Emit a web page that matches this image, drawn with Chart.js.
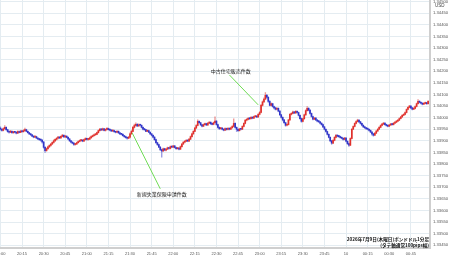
<!DOCTYPE html>
<html><head><meta charset="utf-8">
<script src="https://cdn.jsdelivr.net/npm/chart.js@4.4.1/dist/chart.umd.min.js"></script>
<style>html,body{margin:0;padding:0;background:#fff;overflow:hidden}canvas{display:block}</style>
</head><body>
<canvas id="c" width="450" height="258"></canvas>
<script>
// Time tick labels, one per 15 minutes starting 20:00
const timeLabels = ["20:00","20:15","20:30","20:45","21:00","21:15","21:30","21:45","22:00","22:15","22:30","22:45","23:00","23:15","23:30","23:45","10","00:15","00:30","00:45","01:00"];

// GBP/USD 1-minute candles (20:00 -> 00:57)
const opens = [
1.33955,1.33950,1.33945,1.33952,1.33958,1.33948,1.33940,1.33937,1.33941,1.33935,
1.33938,1.33937,1.33933,1.33940,1.33936,1.33942,1.33939,1.33944,1.33948,1.33941,
1.33935,1.33930,1.33926,1.33920,1.33916,1.33918,1.33912,1.33908,1.33905,1.33903,
1.33895,1.33872,1.33858,1.33866,1.33874,1.33880,1.33886,1.33893,1.33900,1.33906,
1.33911,1.33916,1.33912,1.33919,1.33924,1.33917,1.33920,1.33915,1.33908,1.33900,
1.33894,1.33890,1.33884,1.33886,1.33892,1.33897,1.33901,1.33903,1.33899,1.33905,
1.33910,1.33906,1.33907,1.33913,1.33918,1.33922,1.33926,1.33928,1.33935,1.33944,
1.33950,1.33947,1.33952,1.33945,1.33949,1.33953,1.33948,1.33946,1.33942,1.33944,
1.33939,1.33937,1.33941,1.33934,1.33930,1.33928,1.33922,1.33918,1.33914,1.33911,
1.33916,1.33930,1.33941,1.33958,1.33966,1.33971,1.33964,1.33969,1.33967,1.33958,
1.33950,1.33948,1.33941,1.33944,1.33937,1.33930,1.33924,1.33916,1.33905,1.33892,
1.33884,1.33873,1.33862,1.33856,1.33866,1.33860,1.33864,1.33870,1.33867,1.33875,
1.33873,1.33878,1.33871,1.33866,1.33869,1.33864,1.33875,1.33886,1.33894,1.33898,
1.33902,1.33899,1.33907,1.33918,1.33930,1.33941,1.33955,1.33966,1.33984,1.33978,
1.33969,1.33963,1.33970,1.33974,1.33968,1.33976,1.33980,1.33973,1.33971,1.33978,
1.33985,1.33970,1.33958,1.33952,1.33955,1.33950,1.33946,1.33953,1.33949,1.33954,
1.33950,1.33956,1.33962,1.33975,1.33958,1.33950,1.33944,1.33951,1.33950,1.33962,
1.33975,1.33989,1.33992,1.33997,1.33995,1.34001,1.33998,1.34004,1.34006,1.34003,
1.34014,1.34022,1.34053,1.34068,1.34080,1.34096,1.34088,1.34070,1.34053,1.34060,
1.34048,1.34042,1.34036,1.34040,1.34028,1.34012,1.34001,1.33990,1.33978,1.33967,
1.33970,1.33990,1.34014,1.34018,1.34024,1.34020,1.34027,1.34022,1.34010,1.33996,
1.33984,1.33995,1.34012,1.34030,1.34040,1.34032,1.34018,1.34005,1.33993,1.33998,
1.33990,1.33985,1.33982,1.33976,1.33970,1.33960,1.33950,1.33940,1.33928,1.33915,
1.33900,1.33890,1.33902,1.33915,1.33924,1.33920,1.33918,1.33914,1.33911,1.33906,
1.33912,1.33898,1.33888,1.33881,1.33910,1.33950,1.33962,1.33975,1.33983,1.33989,
1.33982,1.33975,1.33967,1.33960,1.33956,1.33952,1.33950,1.33945,1.33938,1.33930,
1.33924,1.33933,1.33942,1.33950,1.33958,1.33966,1.33972,1.33976,1.33970,1.33966,
1.33963,1.33968,1.33972,1.33970,1.33976,1.33980,1.33985,1.33989,1.33996,1.34003,
1.34010,1.34014,1.34022,1.34035,1.34044,1.34050,1.34042,1.34036,1.34040,1.34048,
1.34060,1.34070,1.34066,1.34062,1.34058,1.34061,1.34064,1.34060];
const highs = [
1.33960,1.33953,1.33956,1.33966,1.33960,1.33950,1.33943,1.33945,1.33943,1.33941,
1.33941,1.33939,1.33943,1.33942,1.33945,1.33944,1.33948,1.33955,1.33950,1.33943,
1.33937,1.33932,1.33928,1.33922,1.33921,1.33920,1.33914,1.33910,1.33907,1.33905,
1.33897,1.33875,1.33869,1.33877,1.33883,1.33889,1.33896,1.33904,1.33909,1.33914,
1.33919,1.33918,1.33922,1.33928,1.33926,1.33923,1.33922,1.33917,1.33910,1.33902,
1.33896,1.33892,1.33889,1.33895,1.33900,1.33904,1.33906,1.33905,1.33908,1.33913,
1.33912,1.33910,1.33916,1.33921,1.33925,1.33929,1.33931,1.33938,1.33947,1.33954,
1.33953,1.33955,1.33954,1.33952,1.33957,1.33955,1.33950,1.33948,1.33947,1.33946,
1.33941,1.33944,1.33943,1.33936,1.33932,1.33930,1.33924,1.33920,1.33916,1.33919,
1.33934,1.33946,1.33962,1.33972,1.33978,1.33974,1.33973,1.33972,1.33969,1.33960,
1.33953,1.33950,1.33947,1.33946,1.33939,1.33932,1.33926,1.33918,1.33907,1.33894,
1.33886,1.33875,1.33864,1.33869,1.33868,1.33867,1.33873,1.33872,1.33878,1.33877,
1.33881,1.33880,1.33873,1.33872,1.33871,1.33878,1.33889,1.33897,1.33901,1.33905,
1.33904,1.33910,1.33921,1.33933,1.33944,1.33958,1.33970,1.33990,1.33986,1.33980,
1.33971,1.33973,1.33977,1.33976,1.33979,1.33983,1.33982,1.33976,1.33981,1.34003,
1.33987,1.33972,1.33960,1.33958,1.33957,1.33952,1.33956,1.33955,1.33957,1.33956,
1.33959,1.33966,1.33995,1.33978,1.33960,1.33952,1.33954,1.33953,1.33965,1.33978,
1.33992,1.33995,1.34000,1.33999,1.34004,1.34003,1.34007,1.34009,1.34008,1.34017,
1.34026,1.34057,1.34072,1.34085,1.34108,1.34100,1.34090,1.34073,1.34064,1.34062,
1.34050,1.34045,1.34043,1.34042,1.34030,1.34014,1.34003,1.33992,1.33980,1.33973,
1.33993,1.34017,1.34021,1.34028,1.34027,1.34030,1.34029,1.34024,1.34012,1.33998,
1.33998,1.34015,1.34034,1.34048,1.34043,1.34034,1.34020,1.34007,1.34001,1.34000,
1.33992,1.33988,1.33984,1.33978,1.33972,1.33962,1.33952,1.33942,1.33930,1.33917,
1.33902,1.33905,1.33918,1.33928,1.33926,1.33923,1.33920,1.33916,1.33913,1.33915,
1.33914,1.33900,1.33890,1.33913,1.33953,1.33965,1.33978,1.33986,1.33993,1.33991,
1.33984,1.33977,1.33969,1.33962,1.33958,1.33955,1.33952,1.33947,1.33940,1.33932,
1.33936,1.33945,1.33953,1.33961,1.33969,1.33975,1.33979,1.33978,1.33972,1.33968,
1.33971,1.33975,1.33974,1.33979,1.33983,1.33988,1.33992,1.33999,1.34006,1.34013,
1.34017,1.34025,1.34038,1.34047,1.34053,1.34052,1.34044,1.34043,1.34051,1.34063,
1.34078,1.34073,1.34068,1.34064,1.34064,1.34067,1.34066,1.34073];
const lows = [
1.33946,1.33942,1.33943,1.33950,1.33945,1.33937,1.33933,1.33935,1.33932,1.33932,
1.33934,1.33930,1.33931,1.33934,1.33935,1.33937,1.33938,1.33942,1.33939,1.33933,
1.33927,1.33923,1.33918,1.33913,1.33914,1.33909,1.33905,1.33902,1.33899,1.33890,
1.33868,1.33850,1.33855,1.33863,1.33871,1.33877,1.33884,1.33890,1.33897,1.33903,
1.33908,1.33910,1.33910,1.33917,1.33915,1.33914,1.33913,1.33905,1.33897,1.33891,
1.33887,1.33880,1.33881,1.33884,1.33890,1.33895,1.33898,1.33896,1.33897,1.33903,
1.33903,1.33903,1.33905,1.33911,1.33916,1.33920,1.33923,1.33926,1.33933,1.33942,
1.33944,1.33945,1.33943,1.33942,1.33947,1.33946,1.33943,1.33940,1.33940,1.33937,
1.33934,1.33935,1.33932,1.33927,1.33925,1.33920,1.33915,1.33911,1.33907,1.33909,
1.33912,1.33928,1.33939,1.33955,1.33963,1.33961,1.33962,1.33964,1.33955,1.33947,
1.33945,1.33939,1.33939,1.33935,1.33927,1.33921,1.33913,1.33902,1.33889,1.33880,
1.33870,1.33858,1.33830,1.33853,1.33857,1.33857,1.33862,1.33864,1.33865,1.33870,
1.33871,1.33869,1.33863,1.33864,1.33861,1.33862,1.33873,1.33884,1.33891,1.33896,
1.33896,1.33897,1.33905,1.33916,1.33928,1.33939,1.33953,1.33964,1.33975,1.33966,
1.33960,1.33961,1.33968,1.33966,1.33966,1.33974,1.33971,1.33968,1.33969,1.33976,
1.33967,1.33955,1.33949,1.33950,1.33947,1.33943,1.33944,1.33946,1.33947,1.33947,
1.33948,1.33954,1.33960,1.33955,1.33940,1.33940,1.33942,1.33947,1.33948,1.33960,
1.33973,1.33986,1.33990,1.33992,1.33993,1.33995,1.33996,1.34002,1.34000,1.34001,
1.34012,1.34020,1.34050,1.34065,1.34077,1.34084,1.34066,1.34050,1.34050,1.34045,
1.34038,1.34033,1.34033,1.34025,1.34009,1.33998,1.33986,1.33975,1.33963,1.33964,
1.33968,1.33988,1.34011,1.34016,1.34017,1.34018,1.34019,1.34007,1.33993,1.33980,
1.33982,1.33993,1.34010,1.34028,1.34029,1.34015,1.34002,1.33990,1.33991,1.33987,
1.33982,1.33979,1.33973,1.33967,1.33957,1.33947,1.33937,1.33925,1.33912,1.33896,
1.33885,1.33888,1.33900,1.33913,1.33917,1.33915,1.33911,1.33908,1.33903,1.33904,
1.33895,1.33884,1.33876,1.33879,1.33908,1.33948,1.33960,1.33973,1.33981,1.33979,
1.33972,1.33964,1.33957,1.33953,1.33949,1.33947,1.33942,1.33935,1.33924,1.33920,
1.33922,1.33931,1.33940,1.33948,1.33956,1.33964,1.33970,1.33967,1.33963,1.33960,
1.33961,1.33966,1.33967,1.33968,1.33974,1.33978,1.33983,1.33987,1.33994,1.34001,
1.34008,1.34012,1.34020,1.34033,1.34042,1.34039,1.34033,1.34034,1.34038,1.34046,
1.34058,1.34063,1.34059,1.34055,1.34056,1.34059,1.34057,1.34058];
const closes = [
1.33950,1.33945,1.33952,1.33958,1.33948,1.33940,1.33937,1.33941,1.33935,1.33938,
1.33937,1.33933,1.33940,1.33936,1.33942,1.33939,1.33944,1.33948,1.33941,1.33935,
1.33930,1.33926,1.33920,1.33916,1.33918,1.33912,1.33908,1.33905,1.33903,1.33895,
1.33872,1.33858,1.33866,1.33874,1.33880,1.33886,1.33893,1.33900,1.33906,1.33911,
1.33916,1.33912,1.33919,1.33924,1.33917,1.33920,1.33915,1.33908,1.33900,1.33894,
1.33890,1.33884,1.33886,1.33892,1.33897,1.33901,1.33903,1.33899,1.33905,1.33910,
1.33906,1.33907,1.33913,1.33918,1.33922,1.33926,1.33928,1.33935,1.33944,1.33950,
1.33947,1.33952,1.33945,1.33949,1.33953,1.33948,1.33946,1.33942,1.33944,1.33939,
1.33937,1.33941,1.33934,1.33930,1.33928,1.33922,1.33918,1.33914,1.33911,1.33916,
1.33930,1.33941,1.33958,1.33966,1.33971,1.33964,1.33969,1.33967,1.33958,1.33950,
1.33948,1.33941,1.33944,1.33937,1.33930,1.33924,1.33916,1.33905,1.33892,1.33884,
1.33873,1.33862,1.33856,1.33866,1.33860,1.33864,1.33870,1.33867,1.33875,1.33873,
1.33878,1.33871,1.33866,1.33869,1.33864,1.33875,1.33886,1.33894,1.33898,1.33902,
1.33899,1.33907,1.33918,1.33930,1.33941,1.33955,1.33966,1.33984,1.33978,1.33969,
1.33963,1.33970,1.33974,1.33968,1.33976,1.33980,1.33973,1.33971,1.33978,1.33985,
1.33970,1.33958,1.33952,1.33955,1.33950,1.33946,1.33953,1.33949,1.33954,1.33950,
1.33956,1.33962,1.33975,1.33958,1.33950,1.33944,1.33951,1.33950,1.33962,1.33975,
1.33989,1.33992,1.33997,1.33995,1.34001,1.33998,1.34004,1.34006,1.34003,1.34014,
1.34022,1.34053,1.34068,1.34080,1.34096,1.34088,1.34070,1.34053,1.34060,1.34048,
1.34042,1.34036,1.34040,1.34028,1.34012,1.34001,1.33990,1.33978,1.33967,1.33970,
1.33990,1.34014,1.34018,1.34024,1.34020,1.34027,1.34022,1.34010,1.33996,1.33984,
1.33995,1.34012,1.34030,1.34040,1.34032,1.34018,1.34005,1.33993,1.33998,1.33990,
1.33985,1.33982,1.33976,1.33970,1.33960,1.33950,1.33940,1.33928,1.33915,1.33900,
1.33890,1.33902,1.33915,1.33924,1.33920,1.33918,1.33914,1.33911,1.33906,1.33912,
1.33898,1.33888,1.33881,1.33910,1.33950,1.33962,1.33975,1.33983,1.33989,1.33982,
1.33975,1.33967,1.33960,1.33956,1.33952,1.33950,1.33945,1.33938,1.33930,1.33924,
1.33933,1.33942,1.33950,1.33958,1.33966,1.33972,1.33976,1.33970,1.33966,1.33963,
1.33968,1.33972,1.33970,1.33976,1.33980,1.33985,1.33989,1.33996,1.34003,1.34010,
1.34014,1.34022,1.34035,1.34044,1.34050,1.34042,1.34036,1.34040,1.34048,1.34060,
1.34070,1.34066,1.34062,1.34058,1.34061,1.34064,1.34060,1.34070];

// Event annotations (minute index / price)
const eventNames = ["中古住宅販売件数","新規失業保険申請件数"];
const eventMinute = [179, 91.5];
const eventPrice = [1.34055, 1.33934];
const labelMinute = [160, 112];
const labelPrice = [1.34201, 1.33671];
const lineTopMinute = [159, 111];
const lineTopPrice = [1.34184, 1.33693];

const captionLines = ["2026年7月9日(木曜日)ポンドドル1分足","(タテ軸通常100pips幅)"];
const currency = "USD";

const UP = '#e0302c', DOWN = '#2f34c8';
const UPW = 'rgba(224,48,44,0.5)', DOWNW = 'rgba(47,52,200,0.5)';
const isUp = closes.map((c,i)=>c>=opens[i]);

const overlay = {
  id:'overlay',
  afterDatasetsDraw(chart){
    const {ctx, scales:{x,y}, chartArea} = chart;
    ctx.save();
    ctx.strokeStyle = '#6fdc55';
    ctx.lineWidth = 1;
    for (let i=0;i<eventNames.length;i++){
      ctx.beginPath();
      ctx.moveTo(x.getPixelForValue(lineTopMinute[i]), y.getPixelForValue(lineTopPrice[i]));
      ctx.lineTo(x.getPixelForValue(eventMinute[i]), y.getPixelForValue(eventPrice[i]));
      ctx.stroke();
    }
    ctx.fillStyle = '#222';
    ctx.font = '5px "Noto Sans CJK JP"';
    ctx.textAlign = 'center';
    ctx.textBaseline = 'middle';
    for (let i=0;i<eventNames.length;i++){
      ctx.fillText(eventNames[i], x.getPixelForValue(labelMinute[i]), y.getPixelForValue(labelPrice[i]));
    }
    ctx.textAlign = 'left';
    ctx.fillStyle = '#444';
    ctx.font = '4.5px "Liberation Sans"';
    ctx.fillText(currency, chartArea.right + 5, 6);
    ctx.fillStyle = '#111';
    ctx.font = 'bold 4.6px "Noto Sans CJK JP"';
    ctx.textAlign = 'right';
    ctx.fillText(captionLines[0], chartArea.right - 1, 239);
    ctx.fillText(captionLines[1], chartArea.right - 1, 245);
    ctx.restore();
  }
};

new Chart(document.getElementById('c'), {
  type: 'bar',
  data: {
    datasets: [
      {
        label: 'body',
        data: closes.map((c,i)=>({x:i, y:[opens[i], c]})),
        backgroundColor: isUp.map(u=>u?UP:DOWN),
        barThickness: 1,
        grouped: false,
        minBarLength: 1
      },
      {
        label: 'wick',
        data: closes.map((c,i)=>({x:i, y:[lows[i], highs[i]]})),
        backgroundColor: isUp.map(u=>u?UPW:DOWNW),
        barThickness: 0.7,
        grouped: false
      }
    ]
  },
  options: {
    responsive: false,
    devicePixelRatio: 1,
    animation: false,
    layout: { padding: 0 },
    plugins: { legend: {display:false}, tooltip: {enabled:false} },
    scales: {
      x: {
        type: 'linear',
        offset: false,
        min: -0.3, max: 298.3,
        grid: { color: '#e4ecf1', drawTicks: false, offset: false },
        border: { color: '#cfcfcf', width: 2 },
        ticks: {
          stepSize: 15, includeBounds: false, autoSkip: false, maxRotation: 0,
          padding: 3, color: '#555', font: { size: 4, family: 'Liberation Sans' },
          callback: v => timeLabels[Math.round(v/15)] ?? ''
        },
        afterFit(s){ s.height = 10; s.paddingLeft = 0; s.paddingRight = 0; }
      },
      y: {
        position: 'right',
        min: 1.33438, max: 1.34507,
        grid: { color: '#e4ecf1', drawTicks: false },
        border: { color: '#cfcfcf', width: 2 },
        ticks: {
          stepSize: 0.0005, includeBounds: false, padding: 3,
          color: '#555', font: { size: 4.2, family: 'Liberation Sans' },
          callback: v => v.toFixed(5)
        },
        afterFit(s){ s.width = 20; s.paddingTop = 0; s.paddingBottom = 0; }
      }
    }
  },
  plugins: [overlay]
});
</script>
</body></html>
